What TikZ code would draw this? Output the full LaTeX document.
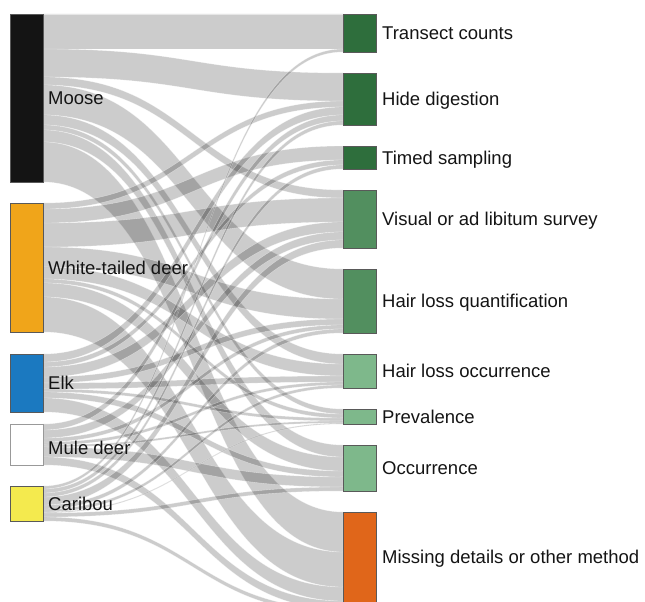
\documentclass[tikz,border=0pt]{standalone}
\usepackage{fontspec}
\setmainfont{Liberation Sans}
\usetikzlibrary{calc,backgrounds}
\definecolor{cMoose}{HTML}{141414}
\definecolor{cWtd}{HTML}{F0A51A}
\definecolor{cElk}{HTML}{1B79C0}
\definecolor{cMule}{HTML}{FFFFFF}
\definecolor{cCari}{HTML}{F4EA4E}
\definecolor{gDark}{HTML}{2E6E3C}
\definecolor{gMid}{HTML}{528F5F}
\definecolor{gLight}{HTML}{7EB88B}
\definecolor{cMiss}{HTML}{E0661A}
\tikzset{
 bar/.style={draw=black!65, line width=0.5pt, minimum width=33pt, inner sep=0pt, outer sep=0pt, anchor=north west},
 flow/.style={fill=black, fill opacity=0.2, draw=white, draw opacity=0.5, line width=0.35pt},
 lbl/.style={anchor=base west, inner sep=0pt, font=\fontsize{18.5}{22}\selectfont, text=black!92}
}
\newcommand{\lnk}[5]{%
  \filldraw[flow] let \p1=([yshift=-#2pt]#1.north east), \p2=([yshift=-#4pt]#3.north west),
    \p3=([yshift=-#2pt-#5pt]#1.north east), \p4=([yshift=-#4pt-#5pt]#3.north west),
    \n1={0.5*\x1+0.5*\x2} in
    (\p1) .. controls (\n1,\y1) and (\n1,\y2) .. (\p2) -- (\p4) .. controls (\n1,\y4) and (\n1,\y3) .. (\p3) -- cycle;}
\begin{document}
\begin{tikzpicture}[x=1pt,y=-1pt]
\useasboundingbox (0,0) rectangle (645,602);
% sources
\node[bar, fill=cMoose, minimum height=168pt] (moose) at (10,14) {};
\node[bar, fill=cWtd, minimum height=129pt] (wtd) at (10,203) {};
\node[bar, fill=cElk, minimum height=58pt] (elk) at (10,354) {};
\node[bar, fill=cMule, draw=black!40, minimum height=41pt] (mule) at (10,424) {};
\node[bar, fill=cCari, minimum height=35pt] (cari) at (10,486) {};
% targets
\node[bar, fill=gDark, minimum height=38pt] (tc) at (343,14) {};
\node[bar, fill=gDark, minimum height=52pt] (hd) at (343,73) {};
\node[bar, fill=gDark, minimum height=23pt] (ts) at (343,146) {};
\node[bar, fill=gMid, minimum height=58pt] (vs) at (343,190) {};
\node[bar, fill=gMid, minimum height=64pt] (hq) at (343,269) {};
\node[bar, fill=gLight, minimum height=34pt] (ho) at (343,354) {};
\node[bar, fill=gLight, minimum height=15pt] (pr) at (343,409) {};
\node[bar, fill=gLight, minimum height=46pt] (oc) at (343,445) {};
\node[bar, fill=cMiss, minimum height=101pt] (mi) at (343,512) {};
% labels
\node[lbl] (lmoose) at ($(moose.east)+(5,6.6)$) {Moose};
\node[lbl] (lwtd) at ($(wtd.east)+(5,6.6)$) {White-tailed deer};
\node[lbl] (lelk) at ($(elk.east)+(5,6.6)$) {Elk};
\node[lbl] (lmule) at ($(mule.east)+(5,10)$) {Mule deer};
\node[lbl] (lcari) at ($(cari.east)+(5,6.6)$) {Caribou};
\node[lbl] (ltc) at ($(tc.east)+(6,6.6)$) {Transect counts};
\node[lbl] (lhd) at ($(hd.east)+(6,6.6)$) {Hide digestion};
\node[lbl] (lts) at ($(ts.east)+(6,6.6)$) {Timed sampling};
\node[lbl] (lvs) at ($(vs.east)+(6,6.6)$) {Visual or ad libitum survey};
\node[lbl] (lhq) at ($(hq.east)+(6,6.6)$) {Hair loss quantification};
\node[lbl] (lho) at ($(ho.east)+(6,6.6)$) {Hair loss occurrence};
\node[lbl] (lpr) at ($(pr.east)+(6,6.6)$) {Prevalence};
\node[lbl] (loc) at ($(oc.east)+(6,6.6)$) {Occurrence};
\node[lbl] (lmi) at ($(mi.east)+(6,1.1)$) {Missing details or other method};
\begin{pgfonlayer}{background}
% Moose
\lnk{moose}{0}{tc}{0}{35}
\lnk{moose}{35}{hd}{0}{28}
\lnk{moose}{63}{vs}{0}{8}
\lnk{moose}{71}{hq}{0}{30}
\lnk{moose}{101}{ho}{0}{10}
\lnk{moose}{111}{pr}{0}{5}
\lnk{moose}{116}{oc}{0}{12}
\lnk{moose}{128}{mi}{0}{40}
% White-tailed deer
\lnk{wtd}{0}{hd}{28}{6}
\lnk{wtd}{6}{ts}{0}{14}
\lnk{wtd}{20}{vs}{8}{24}
\lnk{wtd}{44}{hq}{30}{20}
\lnk{wtd}{64}{ho}{10}{12}
\lnk{wtd}{76}{pr}{5}{4}
\lnk{wtd}{80}{oc}{12}{14}
\lnk{wtd}{94}{mi}{40}{35}
% Elk
\lnk{elk}{0}{hd}{34}{8}
\lnk{elk}{8}{ts}{14}{5}
\lnk{elk}{13}{vs}{32}{10}
\lnk{elk}{23}{hq}{50}{6}
\lnk{elk}{29}{ho}{22}{6}
\lnk{elk}{35}{pr}{9}{3}
\lnk{elk}{38}{oc}{26}{6}
\lnk{elk}{44}{mi}{75}{14}
% Mule deer
\lnk{mule}{0}{hd}{42}{6}
\lnk{mule}{6}{vs}{42}{8}
\lnk{mule}{14}{hq}{56}{4}
\lnk{mule}{18}{ho}{28}{3}
\lnk{mule}{21}{pr}{12}{2}
\lnk{mule}{23}{oc}{32}{10}
\lnk{mule}{33}{mi}{89}{8}
% Caribou
\lnk{cari}{0}{tc}{35}{3}
\lnk{cari}{3}{hd}{48}{4}
\lnk{cari}{7}{ts}{19}{4}
\lnk{cari}{11}{vs}{50}{8}
\lnk{cari}{19}{hq}{60}{4}
\lnk{cari}{23}{ho}{31}{3}
\lnk{cari}{26}{pr}{14}{1}
\lnk{cari}{27}{oc}{42}{4}
\lnk{cari}{31}{mi}{97}{4}
\end{pgfonlayer}
\end{tikzpicture}
\end{document}
